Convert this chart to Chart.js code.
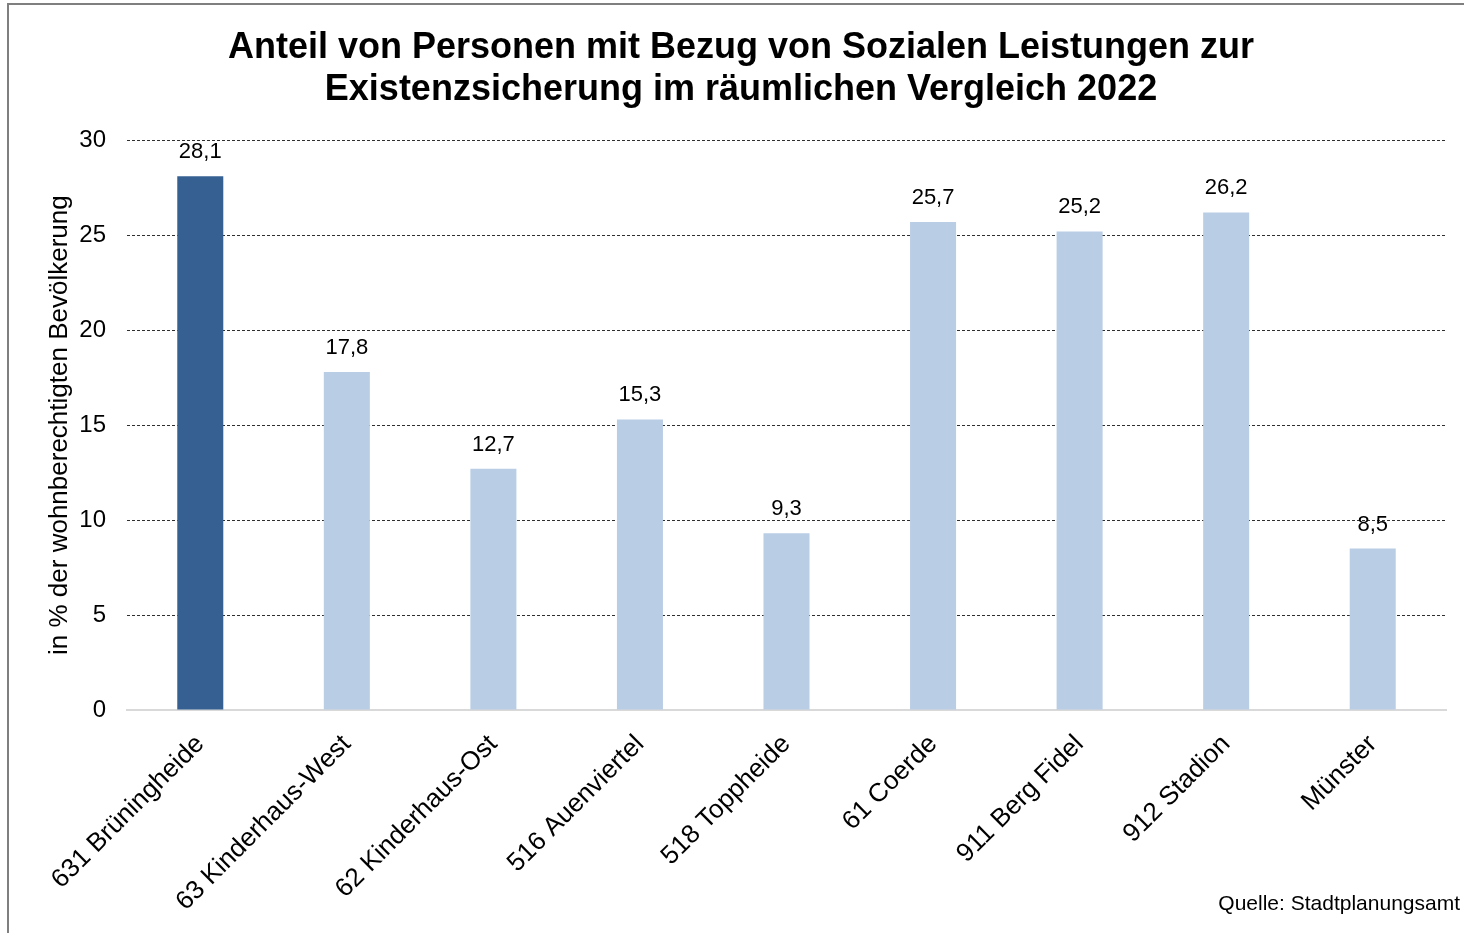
<!DOCTYPE html>
<html>
<head>
<meta charset="utf-8">
<script src="https://cdn.jsdelivr.net/npm/chart.js@4.4.1/dist/chart.umd.min.js"></script>
<style>
  body { margin: 0; background: #fff; }
  #wrap { width: 1464px; height: 933px; position: relative; }
</style>
</head>
<body>
<div id="wrap"><canvas id="sozialChart"></canvas></div>
<script>
const bezirke = ["631 Brüningheide", "63 Kinderhaus-West", "62 Kinderhaus-Ost", "516 Auenviertel",
  "518 Toppheide", "61 Coerde", "911 Berg Fidel", "912 Stadion", "Münster"];
const anteil = [28.1, 17.8, 12.7, 15.3, 9.3, 25.7, 25.2, 26.2, 8.5];
const barColors = ['#376092', '#B9CDE5', '#B9CDE5', '#B9CDE5', '#B9CDE5', '#B9CDE5', '#B9CDE5', '#B9CDE5', '#B9CDE5'];

const font = 'Arial, "Liberation Sans", sans-serif';

// values above the bars, german decimal comma
const valueLabels = {
  id: 'valueLabels',
  afterDatasetsDraw(chart) {
    const ctx = chart.ctx;
    const meta = chart.getDatasetMeta(0);
    ctx.save();
    ctx.font = '22px ' + font;
    ctx.fillStyle = '#000';
    ctx.textAlign = 'center';
    ctx.textBaseline = 'middle';
    meta.data.forEach((bar, i) => {
      ctx.fillText(anteil[i].toFixed(1).replace('.', ','), bar.x, bar.y - 24);
    });
    ctx.restore();
  }
};

const frame = {
  id: 'frame',
  beforeDraw(chart) {
    const ctx = chart.ctx;
    ctx.save();
    ctx.fillStyle = '#fff';
    ctx.fillRect(0, 0, chart.width, chart.height);
    ctx.strokeStyle = '#7f7f7f';
    ctx.lineWidth = 2;
    ctx.beginPath();
    ctx.moveTo(8, chart.height + 5);
    ctx.lineTo(8, 4);
    ctx.lineTo(chart.width + 5, 4);
    ctx.stroke();
    ctx.restore();
  },
  afterDraw(chart) {
    const ctx = chart.ctx;
    ctx.save();
    ctx.font = '21px ' + font;
    ctx.fillStyle = '#000';
    ctx.textAlign = 'right';
    ctx.textBaseline = 'middle';
    ctx.fillText('Quelle: Stadtplanungsamt', 1460, 904);
    ctx.restore();
  }
};

new Chart(document.getElementById('sozialChart'), {
  type: 'bar',
  data: {
    labels: bezirke,
    datasets: [{
      data: anteil,
      backgroundColor: barColors,
      barPercentage: 0.314,
      categoryPercentage: 1
    }]
  },
  options: {
    responsive: true,
    maintainAspectRatio: false,
    animation: false,
    layout: { padding: { top: 0, right: 18, left: 36, bottom: 0 } },
    plugins: {
      legend: { display: false },
      tooltip: { enabled: false },
      title: {
        display: true,
        text: ['Anteil von Personen mit Bezug von Sozialen Leistungen zur',
               'Existenzsicherung im räumlichen Vergleich 2022'],
        color: '#000',
        font: { family: font, size: 36, weight: 'bold', lineHeight: 1.17 },
        padding: { top: 27, bottom: 29 }
      }
    },
    scales: {
      x: {
        grid: { display: false, drawTicks: false },
        border: { display: true, color: '#d9d9d9', width: 2 },
        ticks: {
          color: '#000',
          font: { family: font, size: 26 },
          maxRotation: 45,
          minRotation: 45,
          padding: 19,
          autoSkip: false
        },
        afterFit(scale) { scale.height = 933 - 710; }
      },
      y: {
        min: 0,
        max: 30,
        ticks: {
          stepSize: 5,
          color: '#000',
          font: { family: font, size: 24 },
          padding: 21
        },
        grid: { color: '#303030', drawTicks: false },
        border: { display: false, dash: [3, 2] },
        title: {
          display: true,
          text: 'in % der wohnberechtigten Bevölkerung',
          color: '#000',
          font: { family: font, size: 26 },
          padding: { top: 8, bottom: 0 }
        },
        afterFit(scale) { scale.width = 91; }
      }
    }
  },
  plugins: [frame, valueLabels]
});
</script>
</body>
</html>
